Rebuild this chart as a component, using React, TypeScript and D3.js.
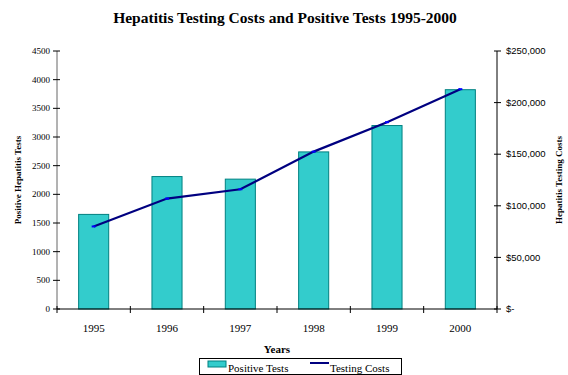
import * as d3 from "d3";

const years = ["1995", "1996", "1997", "1998", "1999", "2000"];
const positiveTests = [1650, 2310, 2265, 2740, 3200, 3825];
const testingCosts = [80000, 107000, 116000, 152500, 181000, 213000];
const leftTicks = [0, 500, 1000, 1500, 2000, 2500, 3000, 3500, 4000, 4500];
const rightTicks = [0, 50000, 100000, 150000, 200000, 250000];

const WIDTH = 568;
const HEIGHT = 375;
const MARGIN = { top: 51, right: 71, bottom: 66, left: 57 };

const SERIF = "'Liberation Serif', 'Times New Roman', serif";
const SANS = "'Liberation Sans', Arial, sans-serif";

const fmtCost = (v: number) => (v === 0 ? "$-" : "$" + d3.format(",")(v));

export default function App() {
  const boundsWidth = WIDTH - MARGIN.left - MARGIN.right;
  const boundsHeight = HEIGHT - MARGIN.top - MARGIN.bottom;

  // one band per year, bars take ~41% of the band
  const xScale = d3.scaleBand().domain(years).range([0, boundsWidth]).padding(0);
  const barWidth = xScale.bandwidth() * 0.41;
  const yLeft = d3.scaleLinear().domain([0, 4500]).range([boundsHeight, 0]);
  const yRight = d3.scaleLinear().domain([0, 250000]).range([boundsHeight, 0]);

  const cx = (i: number) => (xScale(years[i]) ?? 0) + xScale.bandwidth() / 2;

  const line = d3
    .line<number>()
    .x((_, i) => cx(i))
    .y((d) => yRight(d));

  const bars = positiveTests.map((v, i) => (
    <rect
      key={i}
      x={cx(i) - barWidth / 2}
      y={yLeft(v)}
      width={barWidth}
      height={boundsHeight - yLeft(v)}
      fill="#33CCCC"
      stroke="#008080"
      strokeWidth={1}
    />
  ));

  return (
    <svg width={WIDTH} height={HEIGHT} style={{ position: "absolute", left: 0, top: 0 }}>
      <rect width={WIDTH} height={HEIGHT} fill="#fff" />
      <text x={285} y={23} textAnchor="middle" fontFamily={SERIF} fontWeight="bold" fontSize={15.5}>
        Hepatitis Testing Costs and Positive Tests 1995-2000
      </text>
      <g transform={`translate(${MARGIN.left},${MARGIN.top})`}>
        {bars}
        <path d={line(testingCosts) ?? ""} fill="none" stroke="#000080" strokeWidth={2.2} />
        {testingCosts.map((v, i) => (
          <rect key={i} x={cx(i) - 2} y={yRight(v) - 1} width={4} height={2} fill="#0000FF" />
        ))}

        {/* left axis */}
        <line x1={0} x2={0} y1={0} y2={boundsHeight} stroke="#666" />
        {leftTicks.map((t) => (
          <g key={t} transform={`translate(0,${yLeft(t)})`}>
            <line x1={-4} x2={3} stroke="#000" />
            <text x={-7} dy="0.33em" textAnchor="end" fontFamily={SERIF} fontSize={9}>
              {t}
            </text>
          </g>
        ))}

        {/* right axis */}
        <line x1={boundsWidth} x2={boundsWidth} y1={0} y2={boundsHeight} stroke="#000" />
        {rightTicks.map((t) => (
          <g key={t} transform={`translate(${boundsWidth},${yRight(t)})`}>
            <line x1={-3} x2={4} stroke="#000" />
            <text x={9} dy="0.33em" textAnchor="start" fontFamily={SANS} fontSize={9.5}>
              {fmtCost(t)}
            </text>
          </g>
        ))}

        {/* x axis */}
        <line x1={0} x2={boundsWidth} y1={boundsHeight} y2={boundsHeight} stroke="#000" />
        {d3.range(years.length + 1).map((i) => (
          <line
            key={i}
            x1={i * xScale.step()}
            x2={i * xScale.step()}
            y1={boundsHeight - 3}
            y2={boundsHeight + 4}
            stroke="#000"
          />
        ))}
        {years.map((y, i) => (
          <text
            key={y}
            x={cx(i)}
            y={boundsHeight + 23}
            textAnchor="middle"
            fontFamily={SERIF}
            fontSize={11}
          >
            {y}
          </text>
        ))}
      </g>

      <text
        transform="translate(21,180) rotate(-90)"
        textAnchor="middle"
        fontFamily={SERIF}
        fontWeight="bold"
        fontSize={9}
      >
        Positive Hepatitis Tests
      </text>
      <text
        transform="translate(562,180) rotate(-90)"
        textAnchor="middle"
        fontFamily={SERIF}
        fontWeight="bold"
        fontSize={9}
      >
        Hepatitis Testing Costs
      </text>
      <text x={277} y={353} textAnchor="middle" fontFamily={SERIF} fontWeight="bold" fontSize={11}>
        Years
      </text>

      {/* legend */}
      <g>
        <rect x={199.5} y={358.5} width={202} height={16} fill="#fff" stroke="#000" />
        <rect x={208} y={361} width={18} height={6} fill="#33CCCC" stroke="#008080" />
        <text x={228} y={372} fontFamily={SERIF} fontSize={11}>
          Positive Tests
        </text>
        <line x1={310} x2={329} y1={363} y2={363} stroke="#000080" strokeWidth={2} />
        <text x={330} y={372} fontFamily={SERIF} fontSize={11}>
          Testing Costs
        </text>
      </g>
    </svg>
  );
}
